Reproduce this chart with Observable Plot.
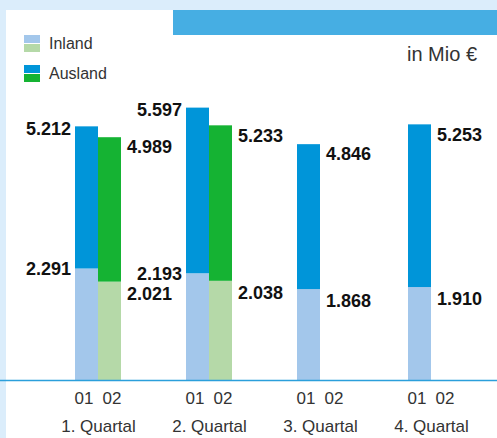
<!DOCTYPE html>
<html>
<head>
<meta charset="utf-8">
<script src="https://cdn.jsdelivr.net/npm/d3@7"></script>
<script src="https://cdn.jsdelivr.net/npm/@observablehq/plot@0.6"></script>
<style>
  html, body { margin: 0; padding: 0; background: #fff; }
  #wrap { position: relative; width: 497px; height: 438px; background: #dbedfb; overflow: hidden; font-family: "Liberation Sans", Arial, sans-serif; }
  #panel { position: absolute; left: 6px; top: 10px; right: 0; bottom: 0; background: #fff; }
  #banner { position: absolute; left: 173px; top: 10px; width: 324px; height: 25px; background: #46aee3; }
  #legend { position: absolute; left: 24px; top: 35px; color: #333; font-size: 16px; }
  .item { position: absolute; left: 0; width: 120px; height: 18px; }
  .sw { position: absolute; left: 0; width: 16px; height: 8px; }
  .lbl { position: absolute; left: 25px; line-height: 18px; white-space: nowrap; }
  #unit { position: absolute; right: 20px; top: 42px; font-size: 20px; color: #333; line-height: 24px; }
  #chart { position: absolute; left: 0; top: 0; }
</style>
</head>
<body>
<div id="wrap">
  <div id="panel"></div>
  <div id="banner"></div>
  <div id="legend"></div>
  <div id="unit">in Mio €</div>
  <div id="chart"></div>
</div>
<script>
// Data (Mio €)
const quarters = ["1. Quartal", "2. Quartal", "3. Quartal", "4. Quartal"];
const years = ["01", "02"];
const totals01 = [5212, 5597, 4846, 5253];
const inland01 = [2291, 2193, 1868, 1910];
const totals02 = [4989, 5233, null, null];
const inland02 = [2021, 2038, null, null];

const colors = {
  "01": { Inland: "#a3c7eb", Ausland: "#0095d9" },
  "02": { Inland: "#b5d9a8", Ausland: "#15b333" }
};

// Legend
const legend = document.getElementById("legend");
[["Inland", 0], ["Ausland", 30]].forEach(([name, top]) => {
  const it = document.createElement("div");
  it.className = "item";
  it.style.top = top + "px";
  it.innerHTML =
    `<div class="sw" style="top:0;background:${colors["01"][name]}"></div>` +
    `<div class="sw" style="top:9px;background:${colors["02"][name]}"></div>` +
    `<div class="lbl" style="top:0px">${name}</div>`;
  legend.appendChild(it);
});

// Build rows
const rows = [];
quarters.forEach((q, i) => {
  const has02 = totals02[i] != null;
  rows.push({ quarter: q, year: "01", inland: inland01[i], total: totals01[i], right: !has02 });
  if (has02) rows.push({ quarter: q, year: "02", inland: inland02[i], total: totals02[i], right: true });
});

const fmt = d3.formatLocale({ decimal: ",", thousands: ".", grouping: [3], currency: ["", "€"] }).format(",d");
const labelFont = { fontSize: 18, fontWeight: "bold", fill: "#111" };
const tickFont = { anchor: "bottom", tickSize: 0, tickPadding: 11, fontSize: 17, fill: "#333", label: null };

const plot = Plot.plot({
  width: 497,
  height: 438,
  marginTop: 88,
  marginBottom: 58,
  marginLeft: 0,
  marginRight: 0,
  style: { background: "transparent", fontFamily: "Liberation Sans, Arial, sans-serif", overflow: "visible" },
  fx: { domain: quarters, paddingInner: 0.5867, paddingOuter: 0.526, align: 0.632 },
  x: { domain: years, padding: 0 },
  y: { domain: [0, 6000], axis: null },
  marks: [
    Plot.barY(rows, { fx: "quarter", x: "year", y1: 0, y2: "inland", fill: d => colors[d.year].Inland }),
    Plot.barY(rows, { fx: "quarter", x: "year", y1: "inland", y2: "total", fill: d => colors[d.year].Ausland }),
    Plot.frame({ anchor: "bottom", facet: "super", stroke: "#2b9fdb", strokeWidth: 1.5, insetLeft: -120, insetRight: -120 }),
    // left labels
    Plot.text(rows.filter(d => !d.right), { fx: "quarter", x: "year", y: "total", text: d => fmt(d.total), textAnchor: "end", dx: -16, lineAnchor: "middle", dy: 2, ...labelFont }),
    Plot.text(rows.filter(d => !d.right), { fx: "quarter", x: "year", y: "inland", text: d => fmt(d.inland), textAnchor: "end", dx: -16, lineAnchor: "middle", dy: 0, ...labelFont }),
    // right labels
    Plot.text(rows.filter(d => d.right), { fx: "quarter", x: "year", y: "total", text: d => fmt(d.total), textAnchor: "start", dx: 17, lineAnchor: "top", dy: 3, ...labelFont }),
    Plot.text(rows.filter(d => d.right), { fx: "quarter", x: "year", y: "inland", text: d => fmt(d.inland), textAnchor: "start", dx: 17, lineAnchor: "top", dy: 5, ...labelFont }),
    Plot.axisX({ ...tickFont, ticks: ["01"], dx: -3 }),
    Plot.axisX({ ...tickFont, ticks: ["02"], dx: 2 }),
    Plot.axisFx({ anchor: "bottom", tickSize: 0, tickPadding: 39, fontSize: 17, fill: "#333", label: null })
  ]
});
document.getElementById("chart").appendChild(plot);
</script>
</body>
</html>
